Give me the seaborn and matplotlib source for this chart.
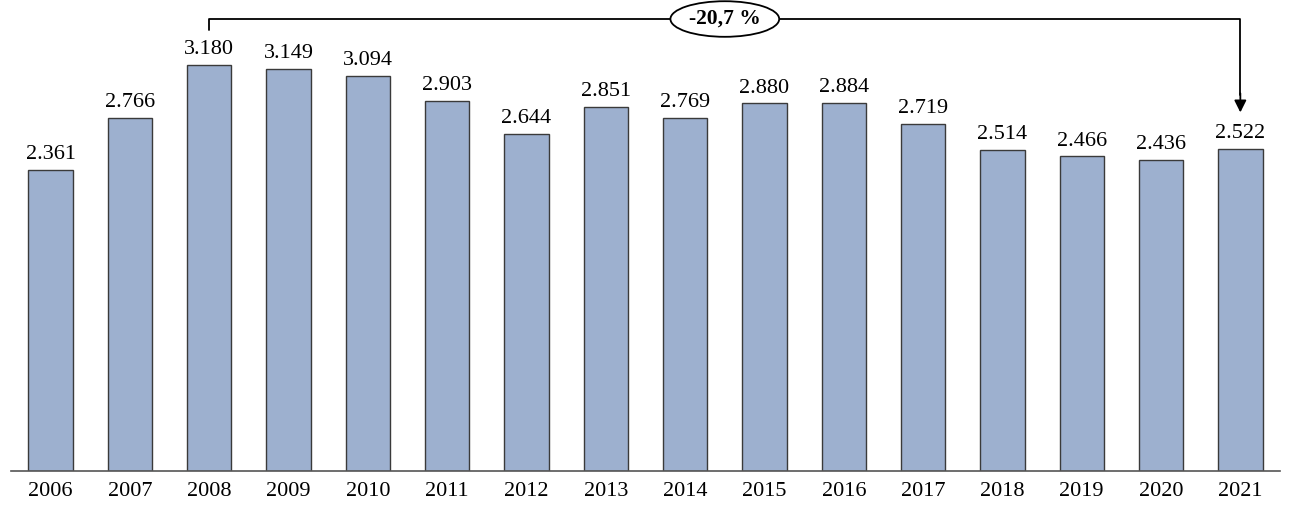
import seaborn as sns
import matplotlib.pyplot as plt
import pandas as pd

years = ['2006', '2007', '2008', '2009', '2010', '2011', '2012', '2013',
         '2014', '2015', '2016', '2017', '2018', '2019', '2020', '2021']
values = [2361, 2766, 3180, 3149, 3094, 2903, 2644, 2851,
          2769, 2880, 2884, 2719, 2514, 2466, 2436, 2522]
labels = ['2.361', '2.766', '3.180', '3.149', '3.094', '2.903', '2.644', '2.851',
          '2.769', '2.880', '2.884', '2.719', '2.514', '2.466', '2.436', '2.522']
change_label = '-20,7 %'

sns.set_style('white')
plt.rcParams['font.family'] = ['Liberation Serif', 'DejaVu Serif']
plt.rcParams['text.color'] = 'black'
plt.rcParams['xtick.color'] = 'black'

df = pd.DataFrame({'year': years, 'value': values})

fig = plt.figure(figsize=(12.91, 5.18), dpi=100)
ax = fig.add_axes([11 / 1291, 47 / 518, 1269 / 1291, 471 / 518])

sns.barplot(data=df, x='year', y='value', color='#9db0cf', saturation=1,
            width=0.56, edgecolor='#3a3a3a', linewidth=1, ax=ax)

for i, (v, lab) in enumerate(zip(values, labels)):
    ax.text(i, v + 45, lab, ha='center', va='bottom', fontsize=16, color='black')

ax.set_xlim(-0.5, 15.5)
ax.set_ylim(0, 3691)
ax.set_xlabel('')
ax.set_ylabel('')
ax.set_yticks([])
ax.tick_params(axis='x', length=0, labelsize=16, pad=8, labelcolor='black')
for s in ['top', 'left', 'right']:
    ax.spines[s].set_visible(False)
ax.spines['bottom'].set_color('#555555')
ax.spines['bottom'].set_linewidth(1.2)

# bracket from 2008 to 2021
top = 3542
ax.plot([2, 2, 15, 15], [3456, top, top, 2950], color='black', lw=1.3,
        clip_on=False)
ax.annotate('', xy=(15, 2810), xytext=(15, 2960),
            arrowprops=dict(arrowstyle='-|>', color='black', lw=1.3,
                            mutation_scale=18, shrinkA=0, shrinkB=0),
            annotation_clip=False)
ax.text(8.5, top, change_label, ha='center', va='center', fontsize=15.5,
        fontweight='bold',
        bbox=dict(boxstyle='ellipse,pad=0.12', fc='white', ec='black', lw=1.3))

fig.savefig('out.png', dpi=100)
